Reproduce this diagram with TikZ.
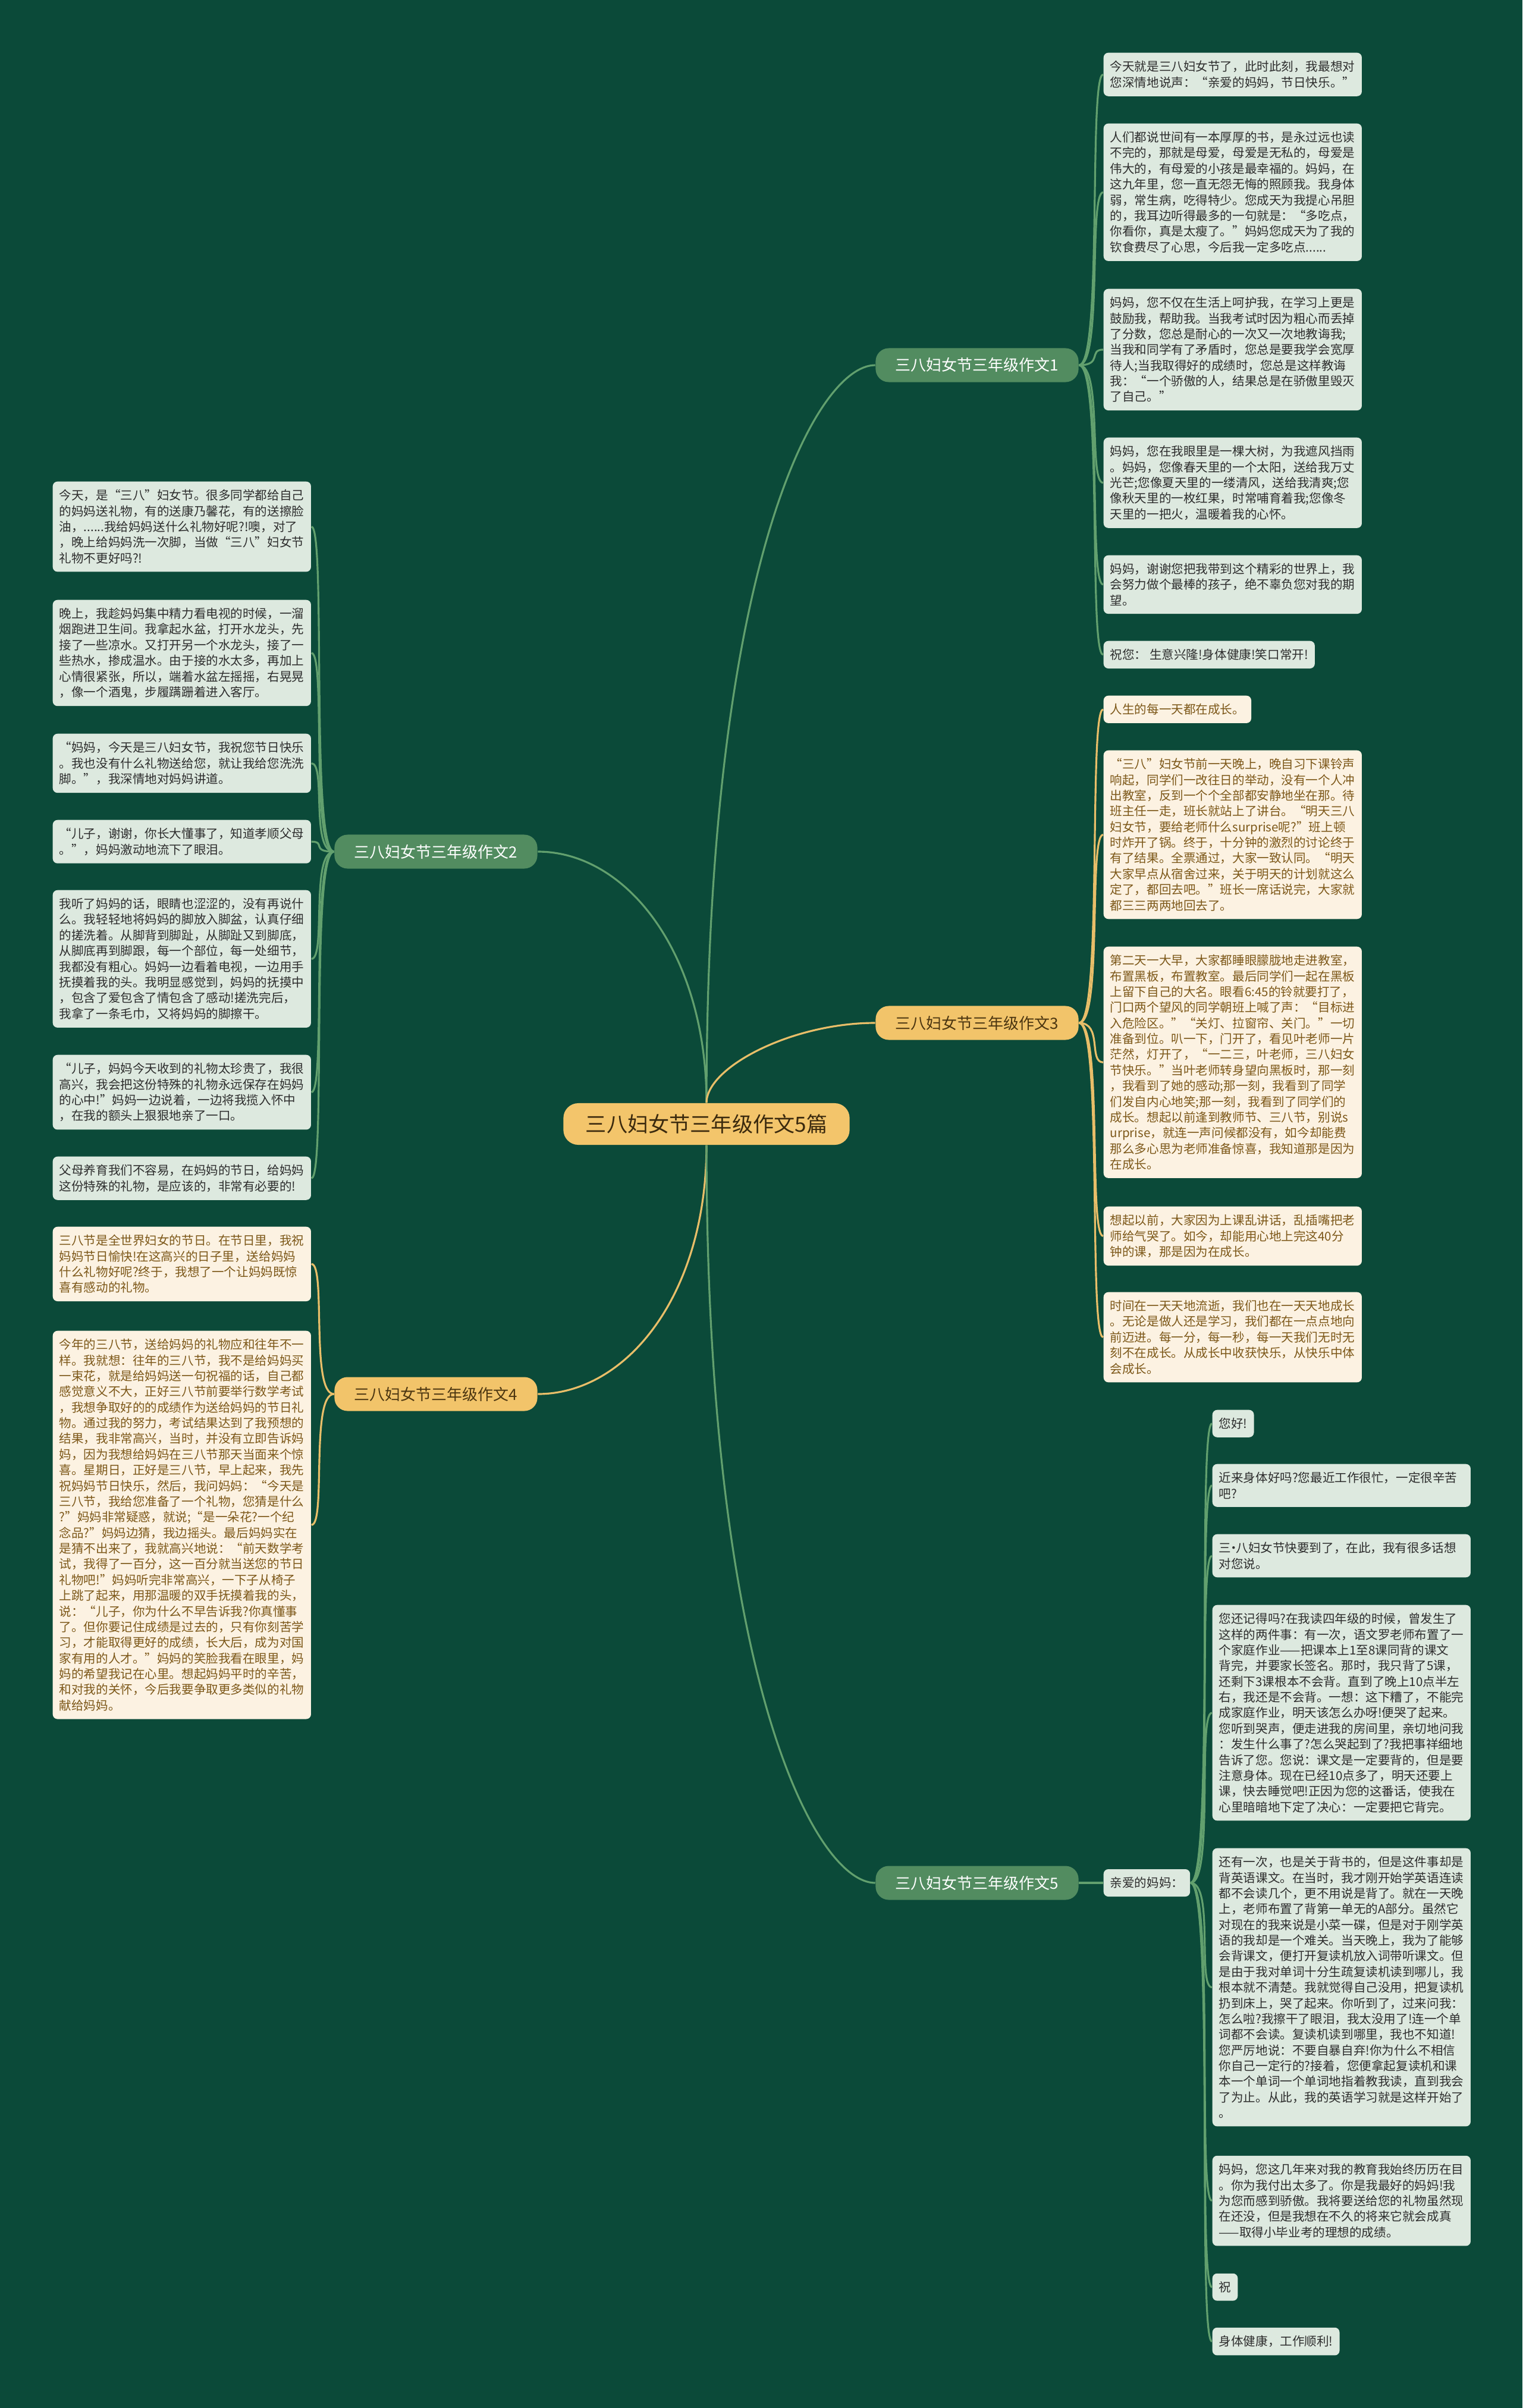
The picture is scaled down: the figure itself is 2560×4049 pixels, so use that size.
\documentclass[tikz,border=0pt]{standalone}
\usepackage{fontspec}
\setmainfont{Noto Sans CJK SC}
\definecolor{bgcol}{RGB}{11,74,57}
\definecolor{leafgfill}{RGB}{221,233,223}
\definecolor{leafgtext}{RGB}{45,45,45}
\definecolor{leafyfill}{RGB}{252,242,226}
\definecolor{leafytext}{RGB}{125,88,25}
\definecolor{brgfill}{RGB}{82,140,96}
\definecolor{bryfill}{RGB}{242,196,106}
\definecolor{brytext}{RGB}{75,53,16}
\definecolor{hubfill}{RGB}{243,197,107}
\definecolor{hubtext}{RGB}{59,42,14}
\definecolor{gline}{RGB}{98,160,110}
\definecolor{yline}{RGB}{232,190,105}
\begin{document}
\begin{tikzpicture}[x=0.01cm,y=-0.01cm,
    leaf/.style={rounded corners=0.08cm, inner xsep=0.11cm, inner ysep=0.135cm, font=\fontsize{5.85}{7.5}\selectfont, anchor=north west},
    leafg/.style={leaf, fill=leafgfill, text=leafgtext},
    leafy/.style={leaf, fill=leafyfill, text=leafytext},
    wide/.style={text width=4.12cm, align=left},
    branch/.style={rounded corners=0.22cm, minimum width=3.41cm, minimum height=0.57cm, inner sep=0pt, font=\fontsize{7.4}{8}\selectfont},
    branchg/.style={branch, fill=brgfill, text=white},
    branchy/.style={branch, fill=bryfill, text=brytext},
    hub/.style={rounded corners=0.25cm, minimum width=4.81cm, minimum height=0.7cm, inner sep=0pt, fill=hubfill, text=hubtext, font=\fontsize{10}{12}\selectfont},
    gl/.style={draw=gline, line width=0.9pt},
    yl/.style={draw=yline, line width=0.9pt},
    twig/.style={line width=0.7pt, out=0, in=180, out distance=0.4cm, in distance=0.25cm},
    twigl/.style={line width=0.7pt, out=180, in=0, out distance=0.4cm, in distance=0.25cm}]
    \fill[bgcol] (0,0) rectangle (2560,4049);
    \useasboundingbox (0,0) rectangle (2560,4049);
    % centre and branches
    \node[hub] (root) at (1188,1890) {三八妇女节三年级作文5篇};
    \node[branchg] (br1) at (1643,614) {三八妇女节三年级作文1};
    \node[branchg] (br2) at (733,1432) {三八妇女节三年级作文2};
    \node[branchy] (br3) at (1643,1720) {三八妇女节三年级作文3};
    \node[branchy] (br4) at (733,2344) {三八妇女节三年级作文4};
    \node[branchg] (br5) at (1643,3166) {三八妇女节三年级作文5};
    \draw[gl] (root.north) to[out=90,in=180,out distance=9cm,in distance=1cm] (br1.west);
    \draw[gl] (root.north) to[out=90,in=0,out distance=2.5cm,in distance=1.5cm] (br2.east);
    \draw[yl] (root.north) to[out=90,in=180,out distance=0.6cm,in distance=1.4cm] (br3.west);
    \draw[yl] (root.south) to[out=-90,in=0,out distance=2.5cm,in distance=1.5cm] (br4.east);
    \draw[gl] (root.south) to[out=-90,in=180,out distance=9cm,in distance=1cm] (br5.west);
    % essay 1
    \node[leafg,wide] (p1a) at (1855,88) {今天就是三八妇女节了，此时此刻，我最想对\\您深情地说声：“亲爱的妈妈，节日快乐。”};
    \node[leafg,wide] (p1b) at (1855,207) {人们都说世间有一本厚厚的书，是永过远也读\\不完的，那就是母爱，母爱是无私的，母爱是\\伟大的，有母爱的小孩是最幸福的。妈妈，在\\这九年里，您一直无怨无悔的照顾我。我身体\\弱，常生病，吃得特少。您成天为我提心吊胆\\的，我耳边听得最多的一句就是：“多吃点，\\你看你，真是太瘦了。”妈妈您成天为了我的\\钦食费尽了心思，今后我一定多吃点......};
    \node[leafg,wide] (p1c) at (1855,485) {妈妈，您不仅在生活上呵护我，在学习上更是\\鼓励我，帮助我。当我考试时因为粗心而丢掉\\了分数，您总是耐心的一次又一次地教诲我;\\当我和同学有了矛盾时，您总是要我学会宽厚\\待人;当我取得好的成绩时，您总是这样教诲\\我：“一个骄傲的人，结果总是在骄傲里毁灭\\了自己。”};
    \node[leafg,wide] (p1d) at (1855,735) {妈妈，您在我眼里是一棵大树，为我遮风挡雨\\。妈妈，您像春天里的一个太阳，送给我万丈\\光芒;您像夏天里的一缕清风，送给我清爽;您\\像秋天里的一枚红果，时常哺育着我;您像冬\\天里的一把火，温暖着我的心怀。};
    \node[leafg,wide] (p1e) at (1855,933) {妈妈，谢谢您把我带到这个精彩的世界上，我\\会努力做个最棒的孩子，绝不辜负您对我的期\\望。};
    \node[leafg] (p1f) at (1855,1077) {祝您： 生意兴隆!身体健康!笑口常开!};
    \foreach \p in {p1a,p1b,p1c,p1d,p1e,p1f}
        \draw[gl] (br1.east) to[twig] (\p.west);
    % essay 2
    \node[leafg,wide] (p2a) at (88,809) {今天，是“三八”妇女节。很多同学都给自己\\的妈妈送礼物，有的送康乃馨花，有的送擦脸\\油，......我给妈妈送什么礼物好呢?!噢，对了\\，晚上给妈妈洗一次脚，当做“三八”妇女节\\礼物不更好吗?!};
    \node[leafg,wide] (p2b) at (88,1008) {晚上，我趁妈妈集中精力看电视的时候，一溜\\烟跑进卫生间。我拿起水盆，打开水龙头，先\\接了一些凉水。又打开另一个水龙头，接了一\\些热水，掺成温水。由于接的水太多，再加上\\心情很紧张，所以，端着水盆左摇摇，右晃晃\\，像一个酒鬼，步履蹒跚着进入客厅。};
    \node[leafg,wide] (p2c) at (88,1233) {“妈妈，今天是三八妇女节，我祝您节日快乐\\。我也没有什么礼物送给您，就让我给您洗洗\\脚。”，我深情地对妈妈讲道。};
    \node[leafg,wide] (p2d) at (88,1378) {“儿子，谢谢，你长大懂事了，知道孝顺父母\\。”，妈妈激动地流下了眼泪。};
    \node[leafg,wide] (p2e) at (88,1496) {我听了妈妈的话，眼睛也涩涩的，没有再说什\\么。我轻轻地将妈妈的脚放入脚盆，认真仔细\\的搓洗着。从脚背到脚趾，从脚趾又到脚底，\\从脚底再到脚跟，每一个部位，每一处细节，\\我都没有粗心。妈妈一边看着电视，一边用手\\抚摸着我的头。我明显感觉到，妈妈的抚摸中\\，包含了爱包含了情包含了感动!搓洗完后，\\我拿了一条毛巾，又将妈妈的脚擦干。};
    \node[leafg,wide] (p2f) at (88,1773) {“儿子，妈妈今天收到的礼物太珍贵了，我很\\高兴，我会把这份特殊的礼物永远保存在妈妈\\的心中!”妈妈一边说着，一边将我揽入怀中\\，在我的额头上狠狠地亲了一口。};
    \node[leafg,wide] (p2g) at (88,1944) {父母养育我们不容易，在妈妈的节日，给妈妈\\这份特殊的礼物，是应该的，非常有必要的!};
    \foreach \p in {p2a,p2b,p2c,p2d,p2e,p2f,p2g}
        \draw[gl] (br2.west) to[twigl] (\p.east);
    % essay 3
    \node[leafy] (p3a) at (1855,1169) {人生的每一天都在成长。};
    \node[leafy,wide] (p3b) at (1855,1261) {“三八”妇女节前一天晚上，晚自习下课铃声\\响起，同学们一改往日的举动，没有一个人冲\\出教室，反到一个个全部都安静地坐在那。待\\班主任一走，班长就站上了讲台。“明天三八\\妇女节，要给老师什么surprise呢?”班上顿\\时炸开了锅。终于，十分钟的激烈的讨论终于\\有了结果。全票通过，大家一致认同。“明天\\大家早点从宿舍过来，关于明天的计划就这么\\定了，都回去吧。”班长一席话说完，大家就\\都三三两两地回去了。};
    \node[leafy,wide] (p3c) at (1855,1591) {第二天一大早，大家都睡眼朦胧地走进教室，\\布置黑板，布置教室。最后同学们一起在黑板\\上留下自己的大名。眼看6:45的铃就要打了，\\门口两个望风的同学朝班上喊了声：“目标进\\入危险区。”“关灯、拉窗帘、关门。”一切\\准备到位。叭一下，门开了，看见叶老师一片\\茫然，灯开了，“一二三，叶老师，三八妇女\\节快乐。”当叶老师转身望向黑板时，那一刻\\，我看到了她的感动;那一刻，我看到了同学\\们发自内心地笑;那一刻，我看到了同学们的\\成长。想起以前逢到教师节、三八节，别说s\\urprise，就连一声问候都没有，如今却能费\\那么多心思为老师准备惊喜，我知道那是因为\\在成长。};
    \node[leafy,wide] (p3d) at (1855,2028) {想起以前，大家因为上课乱讲话，乱插嘴把老\\师给气哭了。如今，却能用心地上完这40分\\钟的课，那是因为在成长。};
    \node[leafy,wide] (p3e) at (1855,2172) {时间在一天天地流逝，我们也在一天天地成长\\。无论是做人还是学习，我们都在一点点地向\\前迈进。每一分，每一秒，每一天我们无时无\\刻不在成长。从成长中收获快乐，从快乐中体\\会成长。};
    \foreach \p in {p3a,p3b,p3c,p3d,p3e}
        \draw[yl] (br3.east) to[twig] (\p.west);
    % essay 4
    \node[leafy,wide] (p4a) at (88,2062) {三八节是全世界妇女的节日。在节日里，我祝\\妈妈节日愉快!在这高兴的日子里，送给妈妈\\什么礼物好呢?终于，我想了一个让妈妈既惊\\喜有感动的礼物。};
    \node[leafy,wide] (p4b) at (88,2237) {今年的三八节，送给妈妈的礼物应和往年不一\\样。我就想：往年的三八节，我不是给妈妈买\\一束花，就是给妈妈送一句祝福的话，自己都\\感觉意义不大，正好三八节前要举行数学考试\\，我想争取好的的成绩作为送给妈妈的节日礼\\物。通过我的努力，考试结果达到了我预想的\\结果，我非常高兴，当时，并没有立即告诉妈\\妈，因为我想给妈妈在三八节那天当面来个惊\\喜。星期日，正好是三八节，早上起来，我先\\祝妈妈节日快乐，然后，我问妈妈：“今天是\\三八节，我给您准备了一个礼物，您猜是什么\\?”妈妈非常疑惑，就说;“是一朵花?一个纪\\念品?”妈妈边猜，我边摇头。最后妈妈实在\\是猜不出来了，我就高兴地说：“前天数学考\\试，我得了一百分，这一百分就当送您的节日\\礼物吧!”妈妈听完非常高兴，一下子从椅子\\上跳了起来，用那温暖的双手抚摸着我的头，\\说：“儿子，你为什么不早告诉我?你真懂事\\了。但你要记住成绩是过去的，只有你刻苦学\\习，才能取得更好的成绩，长大后，成为对国\\家有用的人才。”妈妈的笑脸我看在眼里，妈\\妈的希望我记在心里。想起妈妈平时的辛苦，\\和对我的关怀，今后我要争取更多类似的礼物\\献给妈妈。};
    \foreach \p in {p4a,p4b}
        \draw[yl] (br4.west) to[twigl] (\p.east);
    % essay 5
    \node[leafg,anchor=west] (dear) at (1855,3166) {亲爱的妈妈：};
    \draw[gl] (br5.east) -- (dear.west);
    \node[leafg] (p5a) at (2038,2370) {您好!};
    \node[leafg,wide] (p5b) at (2038,2461) {近来身体好吗?您最近工作很忙，一定很辛苦\\吧?};
    \node[leafg,wide] (p5c) at (2038,2579) {三\kern-.3em·\kern-.3em八妇女节快要到了，在此，我有很多话想\\对您说。};
    \node[leafg,wide] (p5d) at (2038,2698) {您还记得吗?在我读四年级的时候，曾发生了\\这样的两件事：有一次，语文罗老师布置了一\\个家庭作业——把课本上1至8课同背的课文\\背完，并要家长签名。那时，我只背了5课，\\还剩下3课根本不会背。直到了晚上10点半左\\右，我还是不会背。一想：这下糟了，不能完\\成家庭作业，明天该怎么办呀!便哭了起来。\\您听到哭声，便走进我的房间里，亲切地问我\\：发生什么事了?怎么哭起到了?我把事祥细地\\告诉了您。您说：课文是一定要背的，但是要\\注意身体。现在已经10点多了，明天还要上\\课，快去睡觉吧!正因为您的这番话，使我在\\心里暗暗地下定了决心：一定要把它背完。};
    \node[leafg,wide] (p5e) at (2038,3107) {还有一次，也是关于背书的，但是这件事却是\\背英语课文。在当时，我才刚开始学英语连读\\都不会读几个，更不用说是背了。就在一天晚\\上，老师布置了背第一单无的A部分。虽然它\\对现在的我来说是小菜一碟，但是对于刚学英\\语的我却是一个难关。当天晚上，我为了能够\\会背课文，便打开复读机放入词带听课文。但\\是由于我对单词十分生疏复读机读到哪儿，我\\根本就不清楚。我就觉得自己没用，把复读机\\扔到床上，哭了起来。你听到了，过来问我：\\怎么啦?我擦干了眼泪，我太没用了!连一个单\\词都不会读。复读机读到哪里，我也不知道!\\您严厉地说：不要自暴自弃!你为什么不相信\\你自己一定行的?接着，您便拿起复读机和课\\本一个单词一个单词地指着教我读，直到我会\\了为止。从此，我的英语学习就是这样开始了\\。};
    \node[leafg,wide] (p5f) at (2038,3624) {妈妈，您这几年来对我的教育我始终历历在目\\。你为我付出太多了。你是我最好的妈妈!我\\为您而感到骄傲。我将要送给您的礼物虽然现\\在还没，但是我想在不久的将来它就会成真\\——取得小毕业考的理想的成绩。};
    \node[leafg] (p5g) at (2038,3822) {祝};
    \node[leafg] (p5h) at (2038,3913) {身体健康，工作顺利!};
    \foreach \p in {p5a,p5b,p5c,p5d,p5e,p5f,p5g,p5h}
        \draw[gl] (dear.east) to[twig] (\p.west);
\end{tikzpicture}
\end{document}
